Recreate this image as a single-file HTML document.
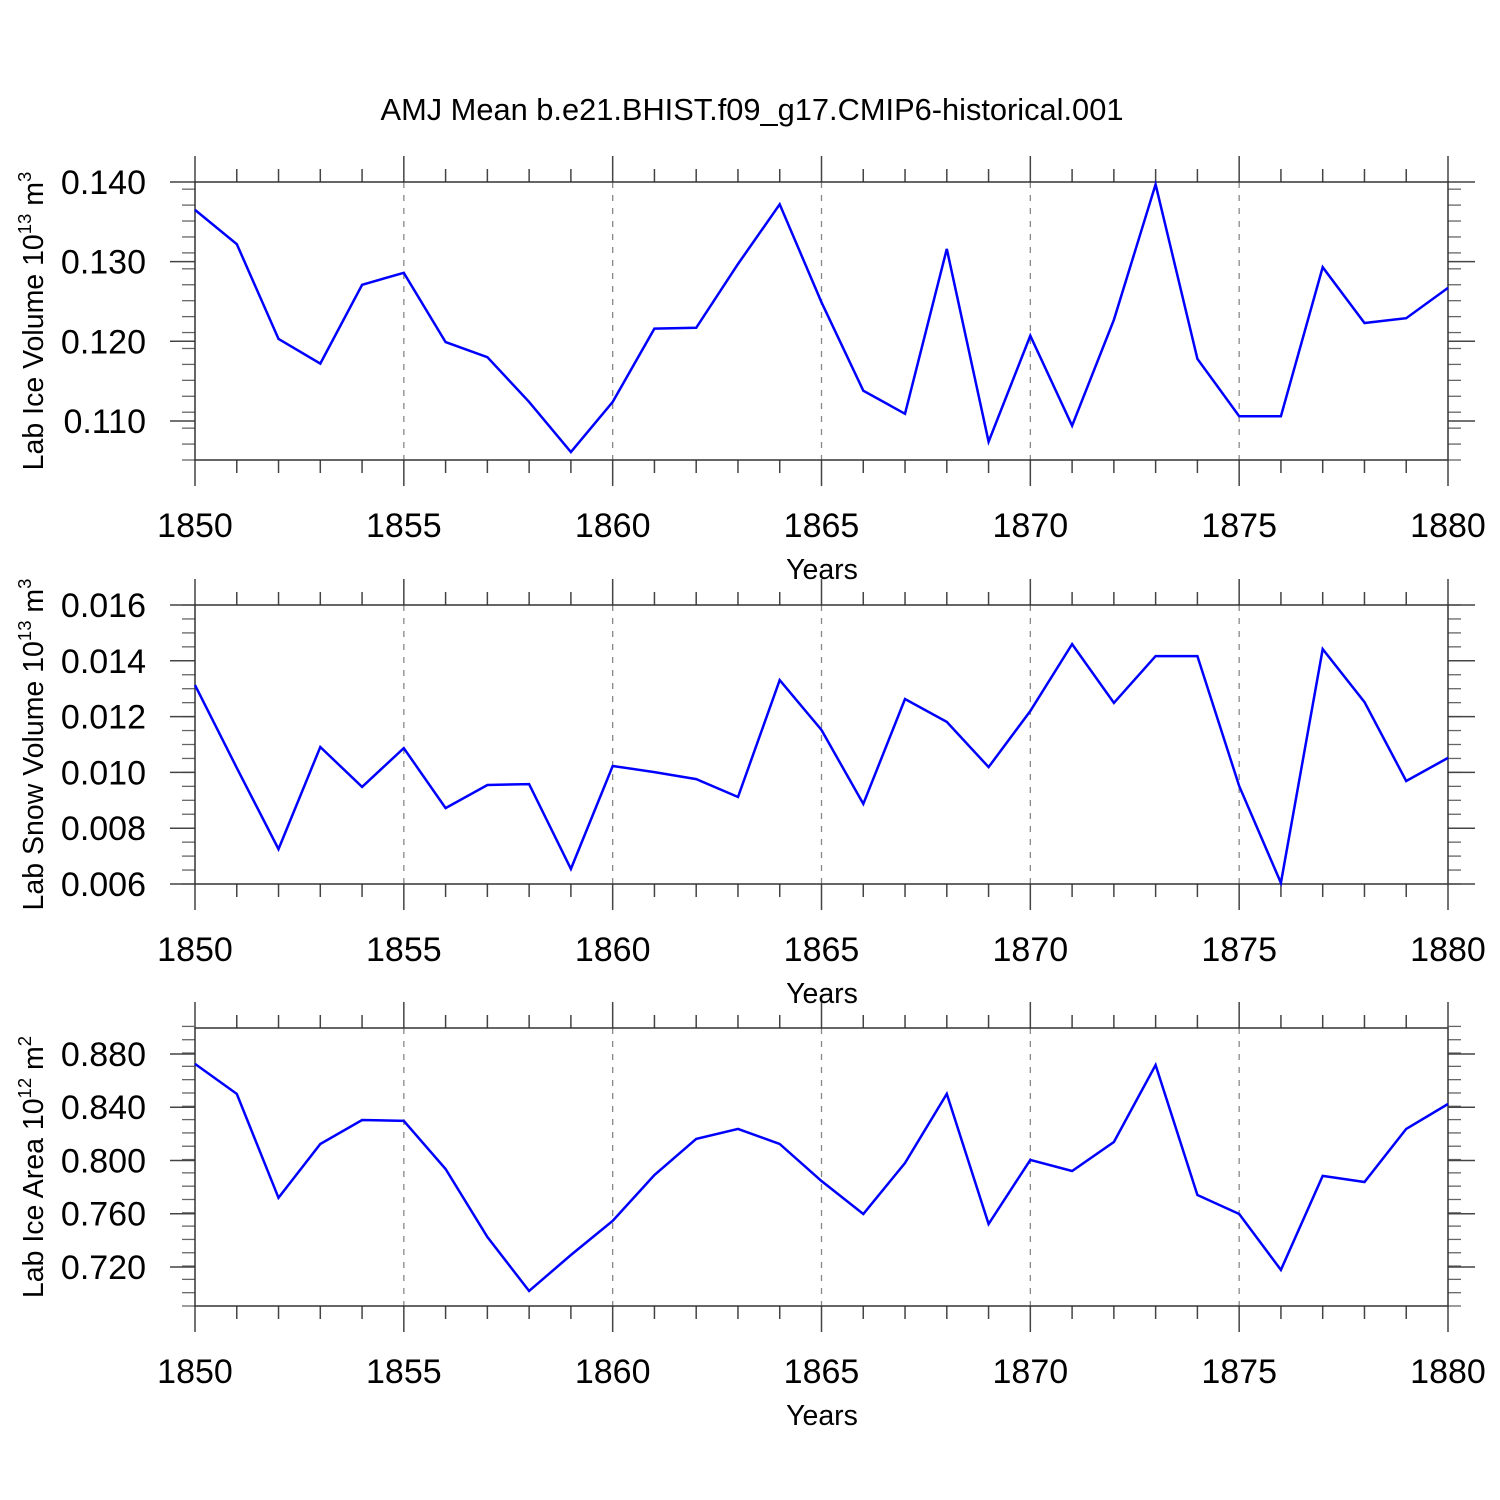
<!DOCTYPE html>
<html><head><meta charset="utf-8"><style>
body{margin:0;background:#fff}
svg{display:block;font-family:"Liberation Sans",sans-serif}
</style></head><body>
<svg id="chart" width="1500" height="1500" xmlns="http://www.w3.org/2000/svg">
<rect width="1500" height="1500" fill="#fff"/>
<text x="752" y="120" font-size="30.8" text-anchor="middle">AMJ Mean b.e21.BHIST.f09_g17.CMIP6-historical.001</text>
</svg>
<script>
const years = [1850,1851,1852,1853,1854,1855,1856,1857,1858,1859,1860,1861,1862,1863,1864,1865,1866,1867,1868,1869,1870,1871,1872,1873,1874,1875,1876,1877,1878,1879,1880];
const iceVolume = [0.1365,0.1322,0.1203,0.1172,0.1271,0.1286,0.1199,0.1180,0.1124,0.1061,0.1124,0.1216,0.1217,0.1297,0.1372,0.1249,0.1138,0.1109,0.1316,0.1074,0.1207,0.1094,0.1227,0.1397,0.1178,0.1106,0.1106,0.1293,0.1223,0.1229,0.1267];
const snowVolume = [0.01313,0.01016,0.00725,0.01091,0.00948,0.01087,0.00872,0.00955,0.00958,0.00654,0.01023,0.01001,0.00976,0.00912,0.01331,0.01152,0.00887,0.01263,0.01181,0.01019,0.0122,0.0146,0.01249,0.01417,0.01417,0.00951,0.00604,0.01442,0.01252,0.00969,0.01052];
const iceArea = [0.8725,0.850,0.772,0.8124,0.8304,0.8297,0.7936,0.7425,0.702,0.729,0.7546,0.7891,0.8162,0.8237,0.8124,0.7846,0.7598,0.7981,0.850,0.7523,0.8004,0.7921,0.8139,0.8717,0.7741,0.7598,0.7178,0.7884,0.7838,0.8237,0.8424];
const xTickLabels = ["1850","1855","1860","1865","1870","1875","1880"];
const iceVolTicks = ["0.110","0.120","0.130","0.140"];
const snowVolTicks = ["0.006","0.008","0.010","0.012","0.014","0.016"];
const iceAreaTicks = ["0.720","0.760","0.800","0.840","0.880"];

const NS="http://www.w3.org/2000/svg";
const svg=document.getElementById('chart');
function mk(tag,attrs,parent){const e=document.createElementNS(NS,tag);for(const k in attrs)e.setAttribute(k,attrs[k]);(parent||svg).appendChild(e);return e;}
const X0=195,X1=1448;
function xs(yr){return X0+(yr-1850)/30*(X1-X0);}

function panel(key,top,bot,ymin,ymax,minorStep,ticks,values,label,exp,unit){
  const g=mk('g',{});
  
  
  const ys=v=>bot-(v-ymin)/(ymax-ymin)*(bot-top);
  for(let yr=1855;yr<1880;yr+=5){
    const l=mk('line',{x1:xs(yr),x2:xs(yr),y1:top,y2:bot,stroke:'#888','stroke-width':1.3,'stroke-dasharray':'6,7'},g);
    
    
  }
  for(let yr=1850;yr<=1880;yr++){
    const len=(yr%5===0)?26:13;
    mk('line',{x1:xs(yr),x2:xs(yr),y1:top-len,y2:top,stroke:'#444','stroke-width':1.5},g);
    mk('line',{x1:xs(yr),x2:xs(yr),y1:bot,y2:bot+len,stroke:'#444','stroke-width':1.5},g);
  }
  xTickLabels.forEach(t=>{
    const tx=mk('text',{x:xs(+t),y:bot+77,'font-size':34,'text-anchor':'middle'},g);
    tx.textContent=t;
    
    
  });
  const xt=mk('text',{x:822,y:bot+119,'font-size':28.5,'text-anchor':'middle'},g);
  xt.textContent='Years';
  
  
  const n=Math.round((ymax-ymin)/minorStep);
  for(let i=0;i<=n;i++){
    const y=ys(ymin+i*minorStep);
    mk('line',{x1:182,x2:195,y1:y,y2:y,stroke:'#666','stroke-width':1.3},g);
    mk('line',{x1:1448,x2:1461,y1:y,y2:y,stroke:'#666','stroke-width':1.3},g);
  }
  ticks.forEach(t=>{
    const y=ys(+t);
    mk('line',{x1:170,x2:195,y1:y,y2:y,stroke:'#444','stroke-width':1.5},g);
    mk('line',{x1:1448,x2:1475,y1:y,y2:y,stroke:'#444','stroke-width':1.5},g);
    const tx=mk('text',{x:146,y:y+12,'font-size':34,'text-anchor':'end'},g);
    tx.textContent=t;
    
    
  });
  const fr=mk('rect',{x:X0,y:top,width:X1-X0,height:bot-top,fill:'none',stroke:'#333','stroke-width':1.5},g);
  
  
  const pts=years.map((yr,i)=>xs(yr).toFixed(1)+','+ys(values[i]).toFixed(1)).join(' ');
  const pl=mk('polyline',{points:pts,fill:'none',stroke:'#0000ff','stroke-width':2.5,'stroke-linejoin':'miter'},g);
  
  
  const cy=(top+bot)/2;
  const yt=mk('text',{x:0,y:0,'font-size':28.5,'text-anchor':'middle',transform:`translate(43,${cy}) rotate(-90)`},g);
  
  
  const a=document.createElementNS(NS,'tspan');a.textContent=label+' 10';yt.appendChild(a);
  const b=document.createElementNS(NS,'tspan');b.setAttribute('dy','-12');b.setAttribute('font-size','18.5');b.textContent=exp;yt.appendChild(b);
  const c=document.createElementNS(NS,'tspan');c.setAttribute('dy','12');c.textContent=' '+unit;yt.appendChild(c);
  const d=document.createElementNS(NS,'tspan');d.setAttribute('dy','-12');d.setAttribute('font-size','18.5');d.textContent=(exp==='12'?'2':'3');yt.appendChild(d);
}
panel('ice-volume',182,460,0.1051,0.140,0.002,iceVolTicks,iceVolume,'Lab Ice Volume','13','m');
panel('snow-volume',605,884,0.006,0.016,0.0005,snowVolTicks,snowVolume,'Lab Snow Volume','13','m');
panel('ice-area',1028,1306,0.6907,0.8995,0.01,iceAreaTicks,iceArea,'Lab Ice Area','12','m');
</script>
</body></html>
